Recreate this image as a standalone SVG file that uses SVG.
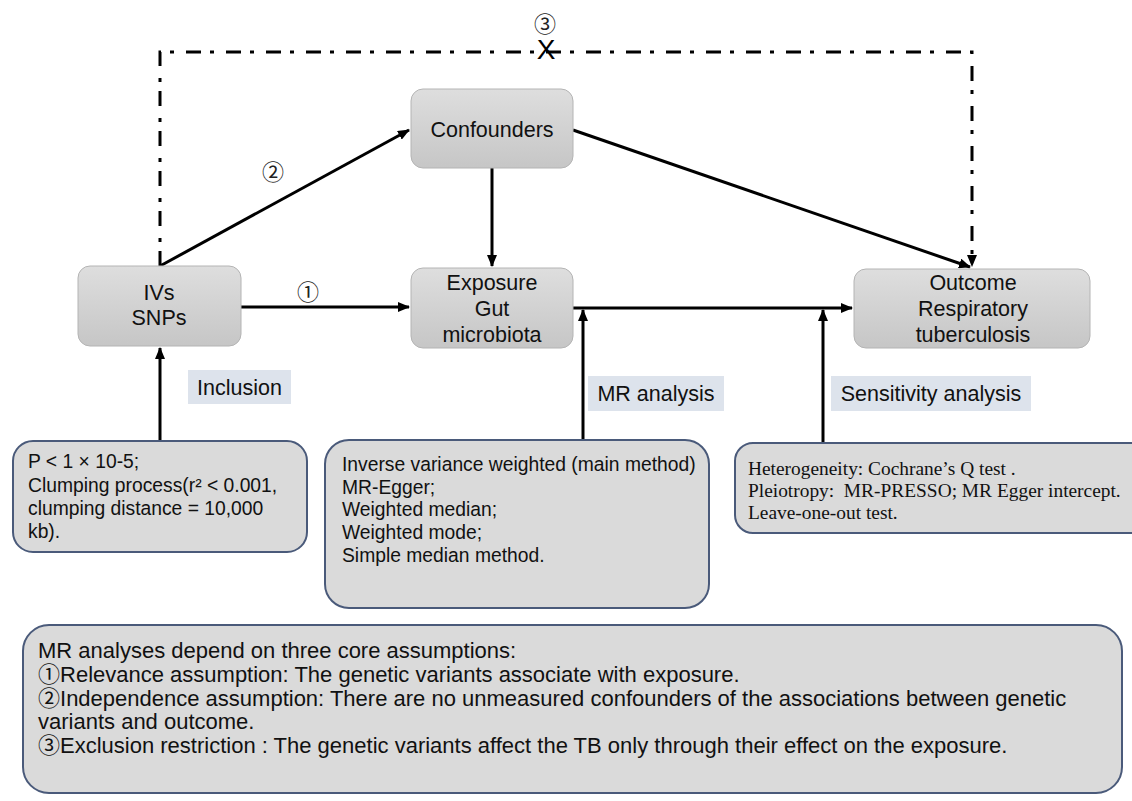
<svg xmlns="http://www.w3.org/2000/svg" width="1132" height="801" viewBox="0 0 1132 801">
<style>
.node{fill:url(#ng);stroke:#b4b4b4;stroke-width:1}
.info{fill:#dadada;stroke:#4a5a7a;stroke-width:2}
.tag{fill:#dde3ec}
.t{font-family:"Liberation Sans",Arial,sans-serif;font-size:21.5px;fill:#111;text-anchor:middle}
.tl{font-family:"Liberation Sans",Arial,sans-serif;font-size:19.3px;fill:#111}
.tb{font-family:"Liberation Sans",Arial,sans-serif;font-size:22px;fill:#111}
.ts{font-family:"Liberation Serif","Times New Roman",serif;font-size:19.4px;fill:#111}
.num{font-family:"Noto Sans CJK SC","DejaVu Sans",sans-serif;font-size:22px;fill:#222;text-anchor:middle}
.cj{font-family:"Noto Sans CJK SC","DejaVu Sans",sans-serif}
.ln{stroke:#000;stroke-width:3;fill:none}
</style>
<defs>
<linearGradient id="ng" x1="0" y1="0" x2="0" y2="1">
<stop offset="0" stop-color="#dedede"/>
<stop offset="1" stop-color="#c6c6c6"/>
</linearGradient>
<marker id="ah" viewBox="0 0 12 10" refX="11" refY="5" markerWidth="12" markerHeight="10" markerUnits="userSpaceOnUse" orient="auto">
<path d="M0,0 L12,5 L0,10 Z" fill="#000"/>
</marker>
</defs>

<g id="connectors">
<path class="ln" d="M160,266 V52 H972 V266" stroke-dasharray="15 9 4 12" marker-end="url(#ah)"/>
<line class="ln" x1="160" y1="266" x2="409" y2="130" marker-end="url(#ah)"/>
<line class="ln" x1="573" y1="130" x2="970" y2="267" marker-end="url(#ah)"/>
<line class="ln" x1="492" y1="168" x2="492" y2="266" marker-end="url(#ah)"/>
<line class="ln" x1="241" y1="307" x2="409" y2="307" marker-end="url(#ah)"/>
<line class="ln" x1="573" y1="308" x2="852" y2="308" marker-end="url(#ah)"/>
<line class="ln" x1="160" y1="441" x2="160" y2="348" marker-end="url(#ah)"/>
<line class="ln" x1="583" y1="441" x2="583" y2="310" marker-end="url(#ah)"/>
<line class="ln" x1="823" y1="443" x2="823" y2="310" marker-end="url(#ah)"/>
<text class="num" x="545" y="32">③</text>
<text x="546" y="59" font-family="'Liberation Sans',Arial,sans-serif" font-size="28" text-anchor="middle" fill="#000">X</text>
<text class="num" x="273" y="180">②</text>
<text class="num" x="308" y="300">①</text>
</g>

<g id="confounders">
<rect class="node" x="411" y="89" width="162" height="79" rx="12"/>
<text class="t" x="492" y="137">Confounders</text>
</g>

<g id="ivs">
<rect class="node" x="78" y="266" width="163" height="80" rx="12"/>
<text class="t" x="159" y="300">IVs</text>
<text class="t" x="159" y="325">SNPs</text>
</g>

<g id="exposure">
<rect class="node" x="411" y="268" width="162" height="80" rx="12"/>
<text class="t" x="492" y="290">Exposure</text>
<text class="t" x="492" y="316">Gut</text>
<text class="t" x="492" y="342">microbiota</text>
</g>

<g id="outcome">
<rect class="node" x="854" y="269" width="236" height="79" rx="12"/>
<text class="t" x="973" y="290">Outcome</text>
<text class="t" x="973" y="316">Respiratory</text>
<text class="t" x="973" y="342">tuberculosis</text>
</g>

<g id="inclusion">
<rect class="tag" x="188" y="370" width="103" height="34"/>
<text class="t" x="239.5" y="395">Inclusion</text>
</g>

<g id="mr-analysis">
<rect class="tag" x="588" y="376" width="136" height="35"/>
<text class="t" x="656" y="401">MR analysis</text>
</g>

<g id="sensitivity-analysis">
<rect class="tag" x="831" y="376" width="200" height="35"/>
<text class="t" x="931" y="401">Sensitivity analysis</text>
</g>

<g id="inclusion-criteria">
<rect class="info" x="13" y="441" width="294" height="111" rx="20"/>
<text class="tl" x="28" y="468">P &lt; 1 × 10-5;</text>
<text class="tl" x="28" y="492">Clumping process(r² &lt; 0.001,</text>
<text class="tl" x="28" y="515">clumping distance = 10,000</text>
<text class="tl" x="28" y="538">kb).</text>
</g>

<g id="mr-methods">
<rect class="info" x="325" y="440" width="384" height="168" rx="24"/>
<text class="tl" x="342" y="471">Inverse variance weighted (main method)</text>
<text class="tl" x="342" y="494">MR-Egger;</text>
<text class="tl" x="342" y="516">Weighted median;</text>
<text class="tl" x="342" y="539">Weighted mode;</text>
<text class="tl" x="342" y="562">Simple median method.</text>
</g>

<g id="sensitivity-methods">
<rect class="info" x="735" y="443" width="420" height="90" rx="18"/>
<text class="ts" x="748" y="475">Heterogeneity: Cochrane’s Q test .</text>
<text class="ts" x="748" y="497">Pleiotropy: &#160;MR-PRESSO; MR Egger intercept.</text>
<text class="ts" x="748" y="519">Leave-one-out test.</text>
</g>

<g id="assumptions">
<rect class="info" x="23" y="625" width="1099" height="168" rx="26"/>
<text class="tb" x="38" y="658">MR analyses depend on three core assumptions:</text>
<text class="tb" x="38" y="682"><tspan class="cj">①</tspan>Relevance assumption: The genetic variants associate with exposure.</text>
<text class="tb" x="38" y="706"><tspan class="cj">②</tspan>Independence assumption: There are no unmeasured confounders of the associations between genetic</text>
<text class="tb" x="38" y="729">variants and outcome.</text>
<text class="tb" x="38" y="753"><tspan class="cj">③</tspan>Exclusion restriction : The genetic variants affect the TB only through their effect on the exposure.</text>
</g>
</svg>
